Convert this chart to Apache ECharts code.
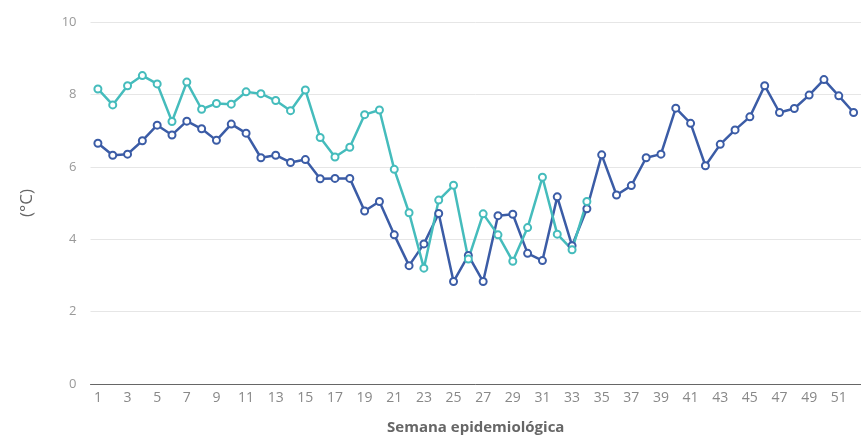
<!DOCTYPE html>
<html>
<head>
<meta charset="utf-8">
<title>Temperatura por semana epidemiológica</title>
<script src="https://cdn.jsdelivr.net/npm/echarts@6/dist/echarts.min.js"></script>
<style>
  html, body { margin: 0; padding: 0; background: #fff; }
  #chart { width: 861px; height: 442px; }
</style>
</head>
<body>
<div id="chart"></div>
<script>
// semanas epidemiológicas 1..52
const weeks = ['1','2','3','4','5','6','7','8','9','10','11','12','13','14','15','16','17','18','19','20',
  '21','22','23','24','25','26','27','28','29','30','31','32','33','34','35','36','37','38','39','40',
  '41','42','43','44','45','46','47','48','49','50','51','52'];

// serie azul oscuro (año completo)
const darkSeries = [6.65, 6.32, 6.35, 6.72, 7.15, 6.88, 7.26, 7.05, 6.73, 7.18,
  6.93, 6.25, 6.32, 6.12, 6.2, 5.67, 5.68, 5.68, 4.78, 5.04,
  4.12, 3.27, 3.87, 4.71, 2.83, 3.55, 2.83, 4.65, 4.69, 3.61,
  3.41, 5.17, 3.82, 4.84, 6.33, 5.22, 5.48, 6.25, 6.35, 7.62,
  7.2, 6.03, 6.62, 7.02, 7.38, 8.24, 7.5, 7.61, 7.98, 8.41,
  7.96, 7.5];

// serie turquesa (hasta la semana 34)
const tealSeries = [8.15, 7.71, 8.24, 8.52, 8.29, 7.25, 8.34, 7.59, 7.75, 7.73,
  8.07, 8.02, 7.83, 7.55, 8.12, 6.81, 6.27, 6.54, 7.44, 7.57,
  5.93, 4.73, 3.2, 5.08, 5.49, 3.45, 4.7, 4.12, 3.39, 4.32,
  5.71, 4.14, 3.71, 5.04];

const chart = echarts.init(document.getElementById('chart'));

const lineSeries = (name, data, color) => ({
  name: name,
  type: 'line',
  data: data,
  symbol: 'emptyCircle',
  symbolSize: 7,
  showAllSymbol: true,
  lineStyle: { width: 2.5, color: color },
  itemStyle: { color: color, borderWidth: 2 },
  emphasis: { disabled: true }
});

chart.setOption({
  animation: false,
  textStyle: { fontFamily: '"Open Sans", "DejaVu Sans", sans-serif' },
  grid: {
    left: 90.5,
    right: -4,
    top: 22,
    bottom: 58
  },
  xAxis: {
    type: 'category',
    data: weeks,
    boundaryGap: true,
    name: 'Semana epidemiológica',
    nameLocation: 'middle',
    nameGap: 36,
    nameTextStyle: { fontSize: 15, fontWeight: 'bold', color: '#666' },
    axisLine: { lineStyle: { color: '#666', width: 1 } },
    axisTick: { alignWithLabel: true, interval: 1, length: 5, lineStyle: { color: '#666' } },
    axisLabel: { interval: 1, color: '#888', fontSize: 14, margin: 7 }
  },
  yAxis: {
    type: 'value',
    min: 0,
    max: 10,
    interval: 2,
    name: '(°C)',
    nameLocation: 'middle',
    nameGap: 55,
    nameRotate: 90,
    nameTextStyle: { fontSize: 17, color: '#666' },
    axisLine: { show: false },
    axisTick: { show: false },
    axisLabel: { color: '#999', fontSize: 13, margin: 14 },
    splitLine: { lineStyle: { color: '#e6e6e6', width: 1 } }
  },
  series: [
    lineSeries('Serie 1', darkSeries, '#3b5ca6'),
    lineSeries('Serie 2', tealSeries, '#45bcbc')
  ]
});
</script>
</body>
</html>
